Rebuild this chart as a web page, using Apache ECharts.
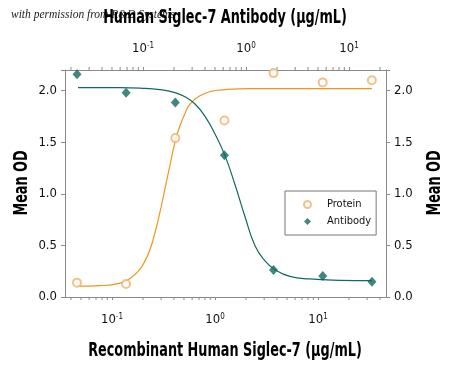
<!DOCTYPE html>
<html><head><meta charset="utf-8">
<script src="https://cdn.jsdelivr.net/npm/echarts@6/dist/echarts.min.js"></script>
<style>html,body{margin:0;padding:0;background:#fff}#c{width:450px;height:367px}</style>
</head><body><div id="c"></div>
<script>
// ---- data ----
const proteinConc = [0.0457, 0.137, 0.412, 1.235, 3.70, 11.1, 33.3];
const proteinOD = [0.139, 0.126, 1.54, 1.71, 2.17, 2.08, 2.10];
const antibodyConc = [0.0229, 0.0686, 0.206, 0.617, 1.85, 5.56, 16.7];
const antibodyOD = [2.16, 1.98, 1.886, 1.375, 0.262, 0.204, 0.149];
const proteinFitConc = [0.0468,0.0765,0.1196,0.1497,0.187,0.209,0.234,0.261,0.292,0.327,0.366,0.409,0.457,0.512,0.572,0.715,0.894,1.25,2.19,6.68,33.4];
const proteinFitOD = [0.105,0.11,0.135,0.18,0.27,0.35,0.46,0.62,0.82,1.05,1.28,1.50,1.66,1.78,1.87,1.95,1.99,2.01,2.02,2.02,2.02];
const antibodyFitConc = [0.0234,0.0383,0.0598,0.0935,0.146,0.2045,0.256,0.320,0.400,0.50,0.625,0.781,0.977,1.22,1.53,1.91,2.67,4.18,8.18,16.7];
const antibodyFitOD = [2.03,2.03,2.03,2.025,2.01,1.98,1.94,1.87,1.75,1.58,1.37,1.09,0.78,0.50,0.35,0.265,0.20,0.175,0.162,0.158];
const bottomMinorTicks = [0.04,0.05,0.06,0.07,0.08,0.09,0.2,0.3,0.4,0.5,0.6,0.7,0.8,0.9,2,3,4,5,6,7,8,9,20,30,40];
const topMinorTicks = [0.02,0.03,0.04,0.05,0.06,0.07,0.08,0.09,0.2,0.3,0.4,0.5,0.6,0.7,0.8,0.9,2,3,4,5,6,7,8,9,20];
const yTicks = [0, 0.5, 1.0, 1.5, 2.0];
const bottomTitle = 'Recombinant Human Siglec-7 (μg/mL)';
const topTitle = 'Human Siglec-7 Antibody (μg/mL)';
const yTitle = 'Mean OD';

const FONT = "'DejaVu Sans Condensed', sans-serif";
const ORANGE = '#F0961E';
const ORANGE_PT = '#F3B26C';
const TEAL = '#12695F';
const AXIS = '#8a8a8a';

const zip = (a, b) => a.map((v, i) => [v, b[i]]);

function powLabel(v) {
  const e = Math.log10(v);
  const r = Math.round(e);
  if (Math.abs(e - r) > 1e-6) return '';
  return '{b|10}{s|' + (r < 0 ? '-' + (-r) : r) + '}';
}
const powRich = {
  b: { fontFamily: FONT, fontSize: 13, color: '#111' },
  s: { fontFamily: FONT, fontSize: 8, color: '#111', verticalAlign: 'top', padding: [0, 0, 6, 0] }
};

function tickSeries(xIndex, values, yVal, dir) {
  return {
    type: 'custom', xAxisIndex: xIndex, yAxisIndex: 0, silent: true,
    data: values.map(v => [v, yVal]),
    renderItem: function (params, api) {
      const p = api.coord([api.value(0), api.value(1)]);
      return { type: 'line', shape: { x1: p[0], y1: p[1], x2: p[0], y2: p[1] + dir * 3 },
        style: { stroke: AXIS, lineWidth: 1 } };
    },
    z: 1
  };
}

function titleText(text, x, y, rot) {
  return {
    type: 'text', x: x, y: y, rotation: rot || 0, scaleX: 0.75, z: 5,
    style: { text: text, fontFamily: FONT, fontSize: 19, fontWeight: 'bold', fill: '#000',
      textAlign: 'center', textVerticalAlign: 'middle', align: 'center', verticalAlign: 'middle' }
  };
}

const chart = echarts.init(document.getElementById('c'), null, { renderer: 'canvas' });
const yAxisCommon = {
  type: 'value', min: 0, max: 2.2, interval: 0.5,
  axisLine: { show: true, lineStyle: { color: AXIS, width: 1 } },
  axisTick: { show: true, length: 4, lineStyle: { color: AXIS } },
  splitLine: { show: false },
  axisLabel: { fontFamily: FONT, fontSize: 13, color: '#111', margin: 8,
    formatter: v => (yTicks.some(t => Math.abs(t - v) < 1e-9) ? v.toFixed(1) : '') }
};
chart.setOption({
  animation: false,
  backgroundColor: '#fff',
  grid: { left: 65, right: 64, top: 70, bottom: 70, show: false },
  graphic: [
    { type: 'text', left: 11, top: 9, z: 1,
      style: { text: 'with permission from R&D Systems', fontFamily: "'Liberation Serif', serif",
        fontStyle: 'italic', fontSize: 11.5, fill: '#222' } },
    titleText(topTitle, 225, 18),
    titleText(bottomTitle, 225, 351),
    titleText(yTitle, 22, 183, Math.PI / 2),
    titleText(yTitle, 435, 183, Math.PI / 2)
  ],
  legend: {
    orient: 'vertical', left: 285, top: 191,
    data: [{ name: 'Protein', icon: 'emptyCircle' }, { name: 'Antibody', icon: 'diamond' }],
    itemWidth: 7, itemHeight: 7, itemGap: 6,
    padding: [8, 5, 8, 18],
    borderColor: '#777', borderWidth: 1,
    itemStyle: { borderWidth: 1 },
    textStyle: { fontFamily: FONT, fontSize: 11, color: '#111', padding: [0, 0, 0, 11] }
  },
  xAxis: [{
    type: 'log', position: 'bottom', min: 0.035, max: 45.7, logBase: 10,
    axisLine: { show: true, onZero: false, lineStyle: { color: AXIS, width: 1 } },
    axisTick: { show: true, length: 3, lineStyle: { color: AXIS } },
    splitLine: { show: false }, minorTick: { show: false },
    axisLabel: { margin: 16, showMinLabel: false, showMaxLabel: false, formatter: powLabel, rich: powRich }
  }, {
    type: 'log', position: 'top', min: 0.0175, max: 22.85, logBase: 10,
    axisLine: { show: true, onZero: false, lineStyle: { color: AXIS, width: 1 } },
    axisTick: { show: true, length: 3, lineStyle: { color: AXIS } },
    splitLine: { show: false },
    axisLabel: { margin: 14, showMinLabel: false, showMaxLabel: false, formatter: powLabel, rich: powRich }
  }],
  yAxis: [
    Object.assign({}, yAxisCommon, { position: 'left' }),
    Object.assign({}, yAxisCommon, { position: 'right' })
  ],
  series: [
    { name: 'ProteinFit', type: 'line', xAxisIndex: 0, yAxisIndex: 0, data: zip(proteinFitConc, proteinFitOD),
      smooth: true, symbol: 'none', lineStyle: { color: ORANGE, width: 1.2 }, z: 2 },
    { name: 'AntibodyFit', type: 'line', xAxisIndex: 1, yAxisIndex: 0, data: zip(antibodyFitConc, antibodyFitOD),
      smooth: true, symbol: 'none', lineStyle: { color: TEAL, width: 1.2 }, z: 2 },
    { name: 'Protein', type: 'scatter', xAxisIndex: 0, yAxisIndex: 0, data: zip(proteinConc, proteinOD),
      symbol: 'emptyCircle', symbolSize: 8, itemStyle: { color: ORANGE_PT, borderColor: ORANGE_PT, borderWidth: 1 }, z: 3 },
    { name: 'Antibody', type: 'scatter', xAxisIndex: 1, yAxisIndex: 0, data: zip(antibodyConc, antibodyOD),
      symbol: 'diamond', symbolSize: [9, 10], itemStyle: { color: TEAL }, z: 3 },
    tickSeries(0, bottomMinorTicks, 0, 1),
    tickSeries(1, topMinorTicks, 2.2, -1)
  ]
});
</script></body></html>
